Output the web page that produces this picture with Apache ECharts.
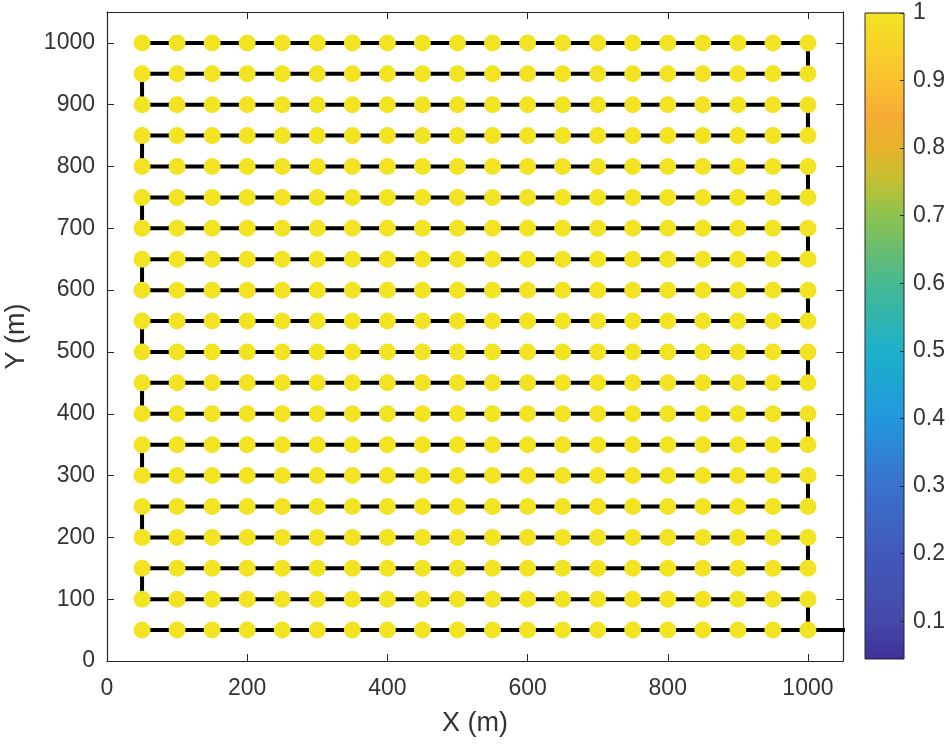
<!DOCTYPE html>
<html>
<head>
<meta charset="utf-8">
<script src="https://cdn.jsdelivr.net/npm/echarts@6/dist/echarts.min.js"></script>
<style>
  html, body { margin: 0; padding: 0; background: #fff; }
  #chart { width: 950px; height: 746px; }
</style>
</head>
<body>
<div id="chart"></div>
<script>
// grid of sensor nodes
const xCols = [50, 100, 150, 200, 250, 300, 350, 400, 450, 500, 550, 600, 650, 700, 750, 800, 850, 900, 950, 1000]
const yRows = [50, 100, 150, 200, 250, 300, 350, 400, 450, 500, 550, 600, 650, 700, 750, 800, 850, 900, 950, 1000]
const nodeValue = 1
// link from the first row out to the depot, right of the area
const depotLink = [[1000, 50], [1100, 50]]

const xTicks = [0, 200, 400, 600, 800, 1000]
const yTicks = [0, 100, 200, 300, 400, 500, 600, 700, 800, 900, 1000]
const colorTicks = [0.1, 0.2, 0.3, 0.4, 0.5, 0.6, 0.7, 0.8, 0.9, 1]
const colorMin = 0.044
const colorMax = 1

// colour bar stops, bottom -> top
const barStops = [
  [0, '#3e2f99'], [0.059, '#4549a8'], [0.164, '#4259ba'], [0.269, '#3a72cc'],
  [0.373, '#2298dc'], [0.478, '#1cb1ca'], [0.584, '#48b990'], [0.689, '#8fc34c'],
  [0.741, '#c4bf32'], [0.794, '#e8b22a'], [0.842, '#f7ac35'], [0.899, '#fbc22e'],
  [1, '#f3e423']
]

const nodes = []
const path = []
yRows.forEach((y, i) => {
  const row = i % 2 === 0 ? xCols : xCols.slice().reverse()
  row.forEach(x => path.push([x, y]))
  xCols.forEach(x => nodes.push([x, y, nodeValue]))
})

const axisColor = '#262626'
const font = 'Liberation Sans, Arial, Helvetica, sans-serif'

const chart = echarts.init(document.getElementById('chart'))

const mainAxis = (pos, ticks, extra) => Object.assign({
  type: 'value',
  gridIndex: 0,
  position: pos,
  min: 0,
  max: 1050,
  axisLine: { show: true, onZero: false, lineStyle: { color: axisColor, width: 1.2 } },
  axisTick: { show: true, inside: true, length: 7, customValues: ticks, lineStyle: { color: axisColor } },
  splitLine: { show: false }
}, extra)

const labelStyle = { color: '#333', fontSize: 23, fontFamily: font, formatter: v => String(v) }
const nameStyle = { color: '#333', fontSize: 27, fontFamily: font }

chart.setOption({
  backgroundColor: '#fff',
  animation: false,
  grid: [
    { left: 107, top: 12, width: 736, height: 649, outerBoundsMode: 'none', containLabel: false },
    {
      left: 865, top: 13, width: 39, height: 646, show: true,
      outerBoundsMode: 'none', containLabel: false,
      borderColor: axisColor, borderWidth: 1,
      backgroundColor: new echarts.graphic.LinearGradient(0, 1, 0, 0,
        barStops.map(s => ({ offset: s[0], color: s[1] })))
    }
  ],
  xAxis: [
    mainAxis('bottom', xTicks, {
      name: 'X (m)', nameLocation: 'middle', nameGap: 49,
      nameTextStyle: nameStyle,
      axisLabel: Object.assign({ margin: 16, customValues: xTicks }, labelStyle)
    }),
    mainAxis('top', xTicks, { axisLabel: { show: false } }),
    { type: 'value', gridIndex: 1, min: 0, max: 1, show: false }
  ],
  yAxis: [
    mainAxis('left', yTicks, {
      name: 'Y (m)', nameLocation: 'middle', nameGap: 77,
      nameTextStyle: nameStyle,
      axisLabel: Object.assign({ margin: 12, customValues: yTicks }, labelStyle)
    }),
    mainAxis('right', yTicks, { axisLabel: { show: false } }),
    {
      type: 'value', gridIndex: 1, position: 'right',
      min: colorMin, max: colorMax,
      axisLine: { show: false, onZero: false },
      axisTick: { show: true, inside: true, length: 4, customValues: colorTicks, lineStyle: { color: axisColor } },
      axisLabel: Object.assign({}, labelStyle, { margin: 9, customValues: colorTicks, formatter: v => String(+v.toFixed(1)) }),
      splitLine: { show: false }
    }
  ],
  visualMap: {
    show: false,
    type: 'continuous',
    seriesIndex: 2,
    dimension: 2,
    min: colorMin,
    max: colorMax,
    inRange: { color: barStops.map(s => s[1]) }
  },
  series: [
    {
      type: 'line',
      data: path,
      symbol: 'none',
      lineStyle: { color: '#000', width: 4 },
      z: 2
    },
    {
      type: 'line',
      data: depotLink,
      symbol: 'none',
      clip: true,
      lineStyle: { color: '#000', width: 4 },
      z: 2
    },
    {
      type: 'scatter',
      data: nodes,
      symbolSize: 17,
      itemStyle: { opacity: 1 },
      z: 3
    }
  ]
})
</script>
</body>
</html>
